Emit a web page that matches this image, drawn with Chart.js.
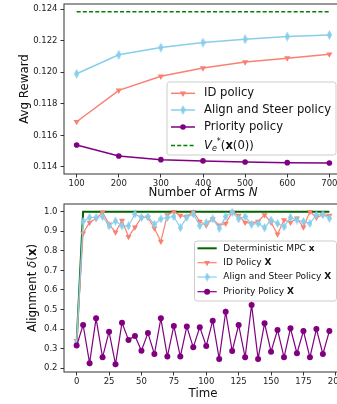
<!DOCTYPE html>
<html>
<head>
<meta charset="utf-8">
<script src="https://cdn.jsdelivr.net/npm/chart.js@4.4.0/dist/chart.umd.min.js"></script>
<style>
html, body { margin: 0; padding: 0; overflow: hidden; background: #fff; width: 337px; height: 404px; }
#c1 { position: absolute; left: 0; top: 0; }
#c2 { position: absolute; left: 0; top: 200px; }
</style>
</head>
<body>
<canvas id="c1" width="350" height="200"></canvas>
<canvas id="c2" width="350" height="204"></canvas>
<script>
// --- données du graphique du haut (récompense moyenne vs nombre de bras)
let arms = [100, 200, 300, 400, 500, 600, 700];
let idReward = [0.11686, 0.11885, 0.11974, 0.12026, 0.12064, 0.12089, 0.12114];
let steerReward = [0.11990, 0.12110, 0.12156, 0.12188, 0.12209, 0.12226, 0.12236];
let priorityReward = [0.11539, 0.11469, 0.11446, 0.11438, 0.11431, 0.11427, 0.11425];
let vStarArms = [100, 700];
let vStarReward = [0.12383, 0.12383];
let armTicks = [100, 200, 300, 400, 500, 600, 700];
let rewardTicks = [0.114, 0.116, 0.118, 0.120, 0.122, 0.124];

// --- données du graphique du bas (alignement dans le temps)
let times = [0, 5, 10, 15, 20, 25, 30, 35, 40, 45, 50, 55, 60, 65, 70, 75, 80, 85, 90, 95,
             100, 105, 110, 115, 120, 125, 130, 135, 140, 145, 150, 155, 160, 165, 170, 175, 180, 185, 190, 195];
let mpcAlign = [0.33, 1.0, 1.0, 1.0, 1.0, 1.0, 1.0, 1.0, 1.0, 1.0, 1.0, 1.0, 1.0, 1.0, 1.0, 1.0, 1.0, 1.0, 1.0, 1.0,
                1.0, 1.0, 1.0, 1.0, 1.0, 1.0, 1.0, 1.0, 1.0, 1.0, 1.0, 1.0, 1.0, 1.0, 1.0, 1.0, 1.0, 1.0, 1.0, 1.0];
let idAlign = [0.34, 0.89, 0.945, 0.965, 0.997, 0.935, 0.895, 0.955, 0.872, 0.92, 0.97, 0.97, 0.915, 0.848, 0.983, 1.0, 0.98, 0.975, 1.0, 0.95,
               0.93, 0.963, 0.93, 0.94, 0.997, 0.98, 0.945, 0.94, 0.95, 0.983, 0.945, 0.884, 0.957, 0.945, 0.966, 0.92, 1.0, 0.97, 0.983, 0.98];
let steerAlign = [0.33, 0.95, 0.97, 0.97, 0.975, 0.927, 0.952, 0.927, 0.927, 0.988, 0.97, 0.975, 0.935, 0.963, 0.97, 0.975, 0.918, 0.97, 0.988, 0.928,
                  0.944, 0.963, 0.915, 0.975, 0.997, 0.963, 0.975, 0.935, 0.94, 0.918, 0.957, 0.94, 0.923, 0.97, 0.957, 0.949, 0.94, 0.983, 0.986, 0.966];
let priorityAlign = [0.316, 0.421, 0.226, 0.455, 0.256, 0.387, 0.22, 0.433, 0.345, 0.365, 0.29, 0.38, 0.273, 0.455, 0.26, 0.416, 0.26, 0.413, 0.307, 0.41,
                     0.314, 0.443, 0.248, 0.489, 0.288, 0.421, 0.256, 0.523, 0.248, 0.43, 0.285, 0.396, 0.256, 0.404, 0.277, 0.39, 0.256, 0.40, 0.273, 0.39];
let timeTicks = [0, 25, 50, 75, 100, 125, 150, 175, 200];
let alignTicks = [0.2, 0.3, 0.4, 0.5, 0.6, 0.7, 0.8, 0.9, 1.0];

const FONT = "'DejaVu Sans', sans-serif";
const SALMON = '#fa8072';
const SKY = '#87ceeb';
const PURPLE = '#800080';

function toPoints(xs, ys) {
    return xs.map((x, i) => ({ x: x, y: ys[i] }));
} // associe x et y

function thinDiamond(w, h, color) {
    let c = document.createElement('canvas');
    c.width = w; c.height = h;
    let g = c.getContext('2d');
    g.fillStyle = color;
    g.beginPath();
    g.moveTo(w / 2, 0); g.lineTo(w, h / 2); g.lineTo(w / 2, h); g.lineTo(0, h / 2);
    g.closePath();
    g.fill();
    return c;
} // marqueur "d" de matplotlib

function richWidth(ctx, segs) {
    let w = 0;
    segs.forEach(s => { ctx.font = s.font; w += ctx.measureText(s.t).width; });
    return w;
}

function drawRich(ctx, segs, x, y) {
    segs.forEach(s => {
        ctx.font = s.font;
        ctx.fillText(s.t, x, y + (s.dy || 0));
        x += ctx.measureText(s.t).width;
    });
}

function drawMarker(ctx, m, x, y) {
    if (!m) return;
    ctx.fillStyle = m.color;
    if (m.image) {
        ctx.drawImage(m.image, x - m.image.width / 2, y - m.image.height / 2);
    } else if (m.type === 'tri') {
        let r = m.r;
        ctx.beginPath();
        ctx.moveTo(x - r * 0.866, y - r * 0.5);
        ctx.lineTo(x + r * 0.866, y - r * 0.5);
        ctx.lineTo(x, y + r);
        ctx.closePath();
        ctx.fill();
    } else {
        ctx.beginPath();
        ctx.arc(x, y, m.r, 0, Math.PI * 2);
        ctx.fill();
    }
}

function drawLegend(ctx, lg) {
    ctx.save();
    ctx.fillStyle = 'rgba(255,255,255,0.8)';
    ctx.strokeStyle = '#cccccc';
    ctx.lineWidth = 1;
    ctx.beginPath();
    ctx.roundRect(lg.x, lg.y, lg.w, lg.h, 2.5);
    ctx.fill();
    ctx.stroke();
    lg.entries.forEach(e => {
        ctx.strokeStyle = e.color;
        ctx.lineWidth = e.lw;
        ctx.setLineDash(e.dash || []);
        ctx.beginPath();
        ctx.moveTo(lg.x0, e.y);
        ctx.lineTo(lg.x1, e.y);
        ctx.stroke();
        ctx.setLineDash([]);
        drawMarker(ctx, e.marker, (lg.x0 + lg.x1) / 2, e.y);
        ctx.fillStyle = '#111';
        ctx.textBaseline = 'middle';
        drawRich(ctx, e.segs, lg.tx, e.y);
    });
    ctx.restore();
}

function decorPlugin(cfg) {
    return {
        id: 'decor',
        afterDraw(chart) {
            let ctx = chart.ctx, a = chart.chartArea;
            ctx.save();
            // cadre complet
            ctx.strokeStyle = '#333';
            ctx.lineWidth = 1;
            ctx.strokeRect(a.left, a.top, a.right - a.left, a.bottom - a.top);
            // titres des axes
            ctx.fillStyle = '#111';
            ctx.textBaseline = 'middle';
            let cx = (a.left + a.right) / 2;
            let w = richWidth(ctx, cfg.xTitle);
            drawRich(ctx, cfg.xTitle, cx - w / 2, cfg.xTitleY);
            ctx.translate(cfg.yTitleX, (a.top + a.bottom) / 2);
            ctx.rotate(-Math.PI / 2);
            w = richWidth(ctx, cfg.yTitle);
            drawRich(ctx, cfg.yTitle, -w / 2, 0);
            ctx.restore();
            drawLegend(ctx, cfg.legend);
        }
    };
}

function xAxis(min, max, ticks, height) {
    return {
        type: 'linear', min: min, max: max,
        afterBuildTicks: s => { s.ticks = ticks.map(v => ({ value: v })); },
        afterFit: s => { s.height = height; s.paddingLeft = 0; s.paddingRight = 0; },
        ticks: { font: { family: FONT, size: 8.5 }, color: '#222', padding: 1, maxRotation: 0, autoSkip: false,
                 callback: v => String(v) },
        grid: { drawOnChartArea: false, color: '#333', tickLength: 3.5, lineWidth: 1 },
        border: { display: false }
    };
}

function yAxis(min, max, ticks, digits) {
    return {
        type: 'linear', min: min, max: max,
        afterBuildTicks: s => { s.ticks = ticks.map(v => ({ value: v })); },
        afterFit: s => { s.width = 64; s.paddingTop = 0; s.paddingBottom = 0; },
        ticks: { font: { family: FONT, size: 8.5 }, color: '#222', padding: 3, autoSkip: false,
                 callback: v => v.toFixed(digits) },
        grid: { drawOnChartArea: false, color: '#333', tickLength: 3.5, lineWidth: 1 },
        border: { display: false }
    };
}

let diamondTop = thinDiamond(5, 10, SKY);
let diamondBottom = thinDiamond(5, 9, SKY);

// --- graphique du haut
let F1 = 11.8, L1 = 11.6;
let topChart = new Chart(document.getElementById('c1'), {
    type: 'line',
    data: {
        datasets: [
            { label: 'ID policy', data: toPoints(arms, idReward), borderColor: SALMON, backgroundColor: SALMON,
              borderWidth: 1.5, pointStyle: 'triangle', rotation: 180, pointRadius: 3.6, pointBorderWidth: 0, order: 4 },
            { label: 'Align and Steer policy', data: toPoints(arms, steerReward), borderColor: SKY, backgroundColor: SKY,
              borderWidth: 1.5, pointStyle: diamondTop, pointRadius: 4, pointBorderWidth: 0, order: 3 },
            { label: 'Priority policy', data: toPoints(arms, priorityReward), borderColor: PURPLE, backgroundColor: PURPLE,
              borderWidth: 1.5, pointStyle: 'circle', pointRadius: 2.8, pointBorderWidth: 0, order: 2 },
            { label: 'V*', data: toPoints(vStarArms, vStarReward), borderColor: 'green', borderWidth: 1.4,
              borderDash: [4, 2.2], pointRadius: 0, order: 1 }
        ]
    },
    options: {
        responsive: false, animation: false, events: [],
        layout: { padding: { top: 4, right: 8, left: 0, bottom: 0 } },
        plugins: { legend: { display: false }, tooltip: { enabled: false } },
        scales: {
            x: xAxis(70, 730, armTicks, 26),
            y: yAxis(0.11355, 0.12432, rewardTicks, 3)
        }
    },
    plugins: [decorPlugin({
        xTitle: [{ t: 'Number of Arms ', font: F1 + 'px ' + FONT }, { t: 'N', font: 'italic ' + F1 + 'px ' + FONT }],
        xTitleY: 193,
        yTitle: [{ t: 'Avg Reward', font: F1 + 'px ' + FONT }],
        yTitleX: 25,
        legend: {
            x: 167, y: 82, w: 169, h: 73, x0: 171, x1: 195, tx: 204,
            entries: [
                { y: 93.3, color: SALMON, lw: 1.5, marker: { type: 'tri', r: 3.6, color: SALMON },
                  segs: [{ t: 'ID policy', font: L1 + 'px ' + FONT }] },
                { y: 110, color: SKY, lw: 1.5, marker: { image: diamondTop },
                  segs: [{ t: 'Align and Steer policy', font: L1 + 'px ' + FONT }] },
                { y: 127, color: PURPLE, lw: 1.5, marker: { type: 'circle', r: 2.8, color: PURPLE },
                  segs: [{ t: 'Priority policy', font: L1 + 'px ' + FONT }] },
                { y: 145.5, color: 'green', lw: 1.4, dash: [4, 2.2],
                  segs: [
                      { t: 'V', font: 'italic ' + L1 + 'px ' + FONT },
                      { t: 'e', font: 'italic 8px ' + FONT, dy: 3 },
                      { t: '*', font: '8px ' + FONT, dy: -4 },
                      { t: '(', font: L1 + 'px ' + FONT },
                      { t: 'x', font: 'bold ' + L1 + 'px ' + FONT },
                      { t: '(0))', font: L1 + 'px ' + FONT }
                  ] }
            ]
        }
    })]
});

// --- graphique du bas
let F2 = 11.8, L2 = 9;
let bottomChart = new Chart(document.getElementById('c2'), {
    type: 'line',
    data: {
        datasets: [
            { label: 'Deterministic MPC', data: toPoints(times, mpcAlign), borderColor: 'darkgreen',
              borderWidth: 2, pointRadius: 0, order: 4 },
            { label: 'ID Policy', data: toPoints(times, idAlign), borderColor: SALMON, backgroundColor: SALMON,
              borderWidth: 1.2, pointStyle: 'triangle', rotation: 180, pointRadius: 3.5, pointBorderWidth: 0, order: 3 },
            { label: 'Align and Steer Policy', data: toPoints(times, steerAlign), borderColor: SKY, backgroundColor: SKY,
              borderWidth: 1.2, pointStyle: diamondBottom, pointRadius: 4, pointBorderWidth: 0, order: 2 },
            { label: 'Priority Policy', data: toPoints(times, priorityAlign), borderColor: PURPLE, backgroundColor: PURPLE,
              borderWidth: 1.2, pointStyle: 'circle', pointRadius: 3, pointBorderWidth: 0, order: 1 }
        ]
    },
    options: {
        responsive: false, animation: false, events: [],
        layout: { padding: { top: 4, right: 8, left: 0, bottom: 0 } },
        plugins: { legend: { display: false }, tooltip: { enabled: false } },
        scales: {
            x: xAxis(-9.75, 204.75, timeTicks, 32),
            y: yAxis(0.181, 1.039, alignTicks, 1)
        }
    },
    plugins: [decorPlugin({
        xTitle: [{ t: 'Time', font: F2 + 'px ' + FONT }],
        xTitleY: 194,
        yTitle: [
            { t: 'Alignment ', font: F2 + 'px ' + FONT },
            { t: 'δ', font: 'italic ' + F2 + 'px ' + FONT },
            { t: '(', font: F2 + 'px ' + FONT },
            { t: 'x', font: 'bold ' + F2 + 'px ' + FONT },
            { t: ')', font: F2 + 'px ' + FONT }
        ],
        yTitleX: 33,
        legend: {
            x: 194.5, y: 41, w: 142, h: 60, x0: 197.5, x1: 216.7, tx: 223.3,
            entries: [
                { y: 48.3, color: 'darkgreen', lw: 2,
                  segs: [{ t: 'Deterministic MPC ', font: L2 + 'px ' + FONT }, { t: 'x', font: 'bold ' + L2 + 'px ' + FONT }] },
                { y: 62.7, color: SALMON, lw: 1.2, marker: { type: 'tri', r: 3.5, color: SALMON },
                  segs: [{ t: 'ID Policy ', font: L2 + 'px ' + FONT }, { t: 'X', font: 'bold ' + L2 + 'px ' + FONT }] },
                { y: 77, color: SKY, lw: 1.2, marker: { image: diamondBottom },
                  segs: [{ t: 'Align and Steer Policy ', font: L2 + 'px ' + FONT }, { t: 'X', font: 'bold ' + L2 + 'px ' + FONT }] },
                { y: 91.7, color: PURPLE, lw: 1.2, marker: { type: 'circle', r: 3, color: PURPLE },
                  segs: [{ t: 'Priority Policy ', font: L2 + 'px ' + FONT }, { t: 'X', font: 'bold ' + L2 + 'px ' + FONT }] }
            ]
        }
    })]
});
</script>
</body>
</html>
